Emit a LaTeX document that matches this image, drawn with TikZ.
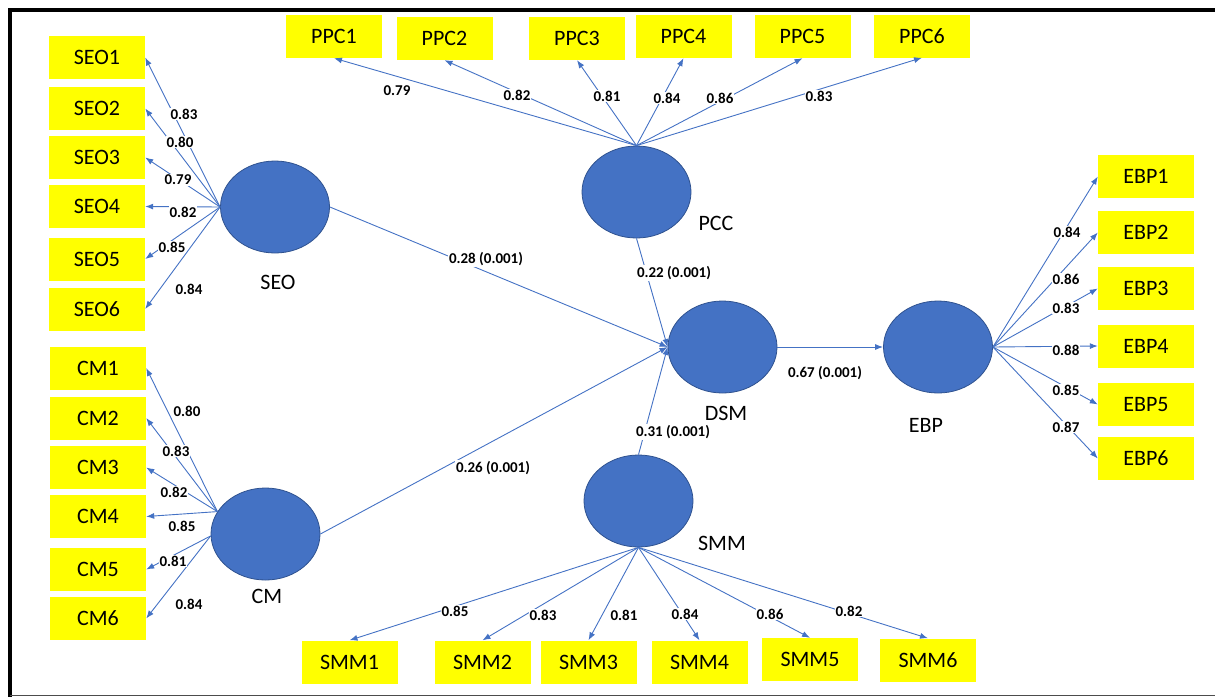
\documentclass[tikz,border=0pt]{standalone}
\usepackage{fontspec}
\setmainfont{Carlito}
\usetikzlibrary{arrows.meta,shapes.geometric}
\definecolor{semblue}{HTML}{4472C4}
\definecolor{semedge}{HTML}{2F528F}
\definecolor{itemyellow}{HTML}{FFFF00}

\begin{document}
\begin{tikzpicture}[x=1pt,y=-1pt,
  latent/.style={ellipse,fill=semblue,draw=semedge,line width=0.8pt,minimum width=109pt,minimum height=92pt,inner sep=0pt},
  item/.style={fill=itemyellow,minimum width=96pt,minimum height=43pt,inner sep=0pt,font=\fontsize{22}{26}\selectfont},
  latname/.style={font=\fontsize{22}{26}\selectfont},
  load/.style={fill=white,inner sep=1pt,font=\fontsize{15}{18}\selectfont\bfseries},
  link/.style={draw=semblue,line width=0.9pt,-{Latex[length=8pt,width=6pt]}}]
\useasboundingbox (0,0) rectangle (1215,697);

% Frame
\draw[line width=4pt] (8,9.5) -- (1215,9.5);
\draw[line width=4pt] (9.5,8) -- (9.5,697);
\draw[black!70,line width=1.5pt] (9.5,695.5) -- (1215,695.5);

% Latent variables
\node[latent] (seo) at (275,207) {};
\node[latent] (pcc) at (636.5,192) {};
\node[latent] (cm) at (265.5,534) {};
\node[latent] (dsm) at (722.5,347) {};
\node[latent] (ebp) at (938,347) {};
\node[latent] (smm) at (638.5,501) {};

\node[latname] (tseo) at (278,282) {SEO};
\node[latname] (tpcc) at (716,223) {PCC};
\node[latname] (tdsm) at (726,413) {DSM};
\node[latname] (tebp) at (926,425) {EBP};
\node[latname] (tsmm) at (722,543) {SMM};
\node[latname] (tcm) at (267,596) {CM};

% Indicators
\foreach \i/\y in {1/57.5,2/108.5,3/157.5,4/206.5,5/259,6/309}
  \node[item] (seo\i) at (97,\y) {SEO\i};
\foreach \i/\y in {1/368,2/418,3/467.5,4/516.5,5/569.5,6/618.5}
  \node[item] (cm\i) at (98,\y) {CM\i};
\foreach \i/\x/\y in {1/334/36.5,2/444.5/38.5,3/577/38.5,4/683.5/36.5,5/802.5/36.5,6/922/36}
  \node[item] (ppc\i) at (\x,\y) {PPC\i};
\foreach \i/\y in {1/176.5,2/232.5,3/288.5,4/346,5/404.5,6/458.5}
  \node[item] (ebp\i) at (1146,\y) {EBP\i};
\foreach \i/\x/\y in {1/349.5/662,2/482.5/662,3/588.5/662,4/699.5/662,5/810/659.5,6/928/660}
  \node[item] (smm\i) at (\x,\y) {SMM\i};

% Loadings
\foreach \i in {1,...,6} {
  \draw[link] (seo.west) -- (seo\i.east);
  \draw[link] (pcc.north) -- (ppc\i.south);
  \draw[link] (ebp.east) -- (ebp\i.west);
  \draw[link] (smm.south) -- (smm\i.north);
}
\foreach \i/\a in {1/155,2/155,3/155,4/155,5/182,6/182}
  \draw[link] (cm.\a) -- (cm\i.east);

% Structural paths
\draw[link] (seo.east) -- (dsm.west);
\draw[link] (pcc.south) -- (dsm.west);
\draw[link] (cm.east) -- (dsm.west);
\draw[link] (smm.north) -- (dsm.west);
\draw[link] (dsm.east) -- (ebp.west);

% Labels
\foreach \v/\x/\y [count=\i] in {0.83/184/114,0.80/180/142,0.79/178/180,0.82/183/212,0.85/172/247,0.84/189/289}
  \node[load] (lseo\i) at (\x,\y) {\v};
\foreach \v/\x/\y [count=\i] in {0.80/187/411,0.83/176/451,0.82/174/492,0.85/182/526,0.81/173/561,0.84/189/604}
  \node[load] (lcm\i) at (\x,\y) {\v};
\foreach \v/\x/\y [count=\i] in {0.79/397/91,0.82/517/95,0.81/607/96,0.84/667/98,0.86/720/98,0.83/819/96}
  \node[load] (lppc\i) at (\x,\y) {\v};
\foreach \v/\x/\y [count=\i] in {0.84/1067/232,0.86/1066/279,0.83/1066/308,0.88/1066/350,0.85/1066/390,0.87/1066/427}
  \node[load] (lebp\i) at (\x,\y) {\v};
\foreach \v/\x/\y [count=\i] in {0.85/455/611,0.83/543/615,0.81/624/615,0.84/685/614,0.86/770/614,0.82/849/611}
  \node[load] (lsmm\i) at (\x,\y) {\v};

\node[load] (pseo) at (486,259) {0.28 (0.001)};
\node[load] (ppcc) at (674,273) {0.22 (0.001)};
\node[load] (pcm) at (493,468) {0.26 (0.001)};
\node[load] (psmm) at (673,432) {0.31 (0.001)};
\node[load] (pdsm) at (825,373) {0.67 (0.001)};
\end{tikzpicture}
\end{document}
